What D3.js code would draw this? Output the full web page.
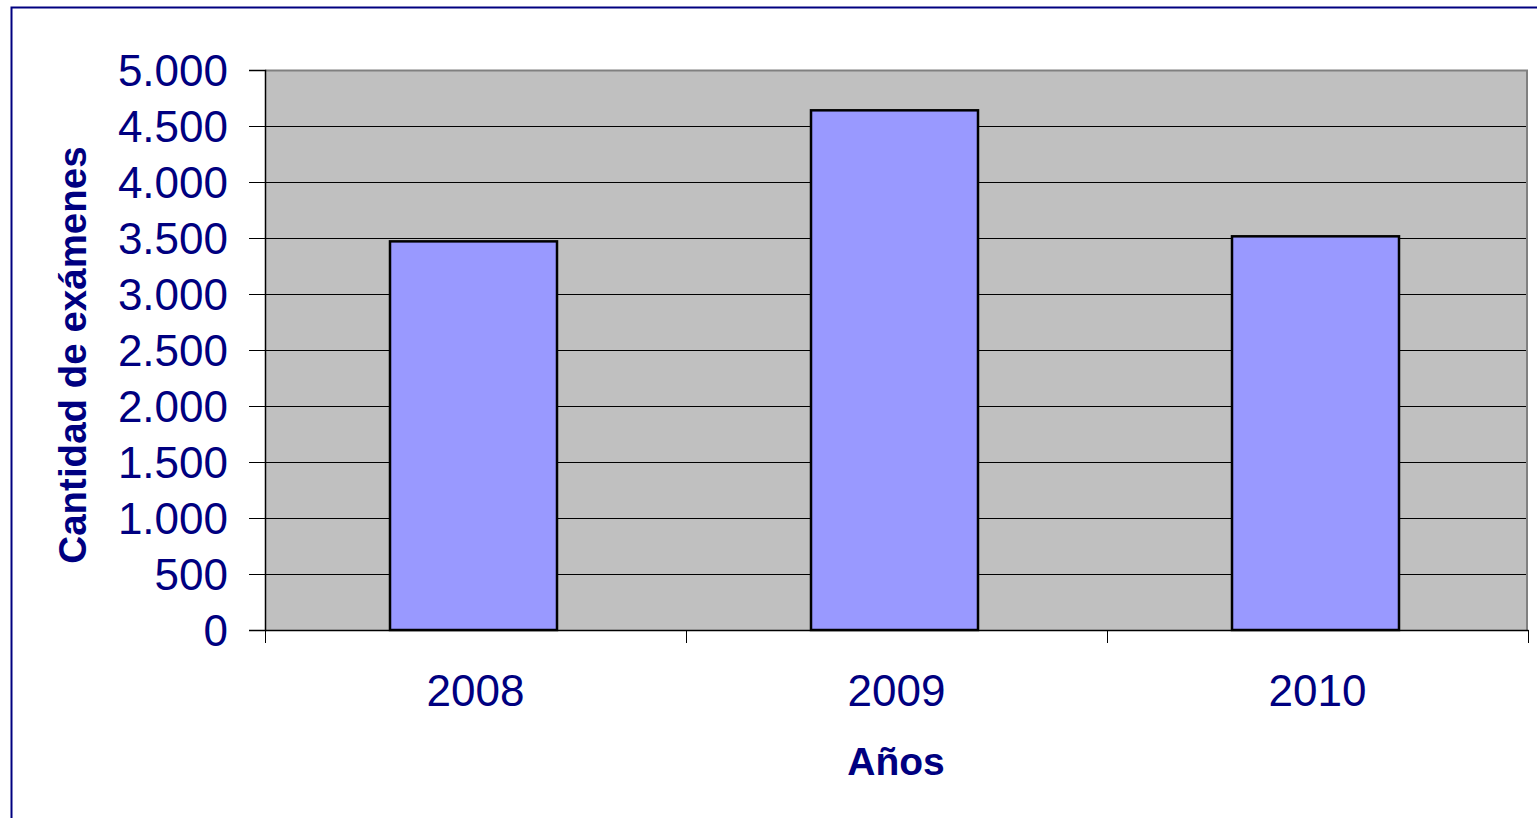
<!DOCTYPE html>
<html>
<head>
<meta charset="utf-8">
<script src="https://cdn.jsdelivr.net/npm/d3@7"></script>
<style>
  body { margin: 0; background: #fff; }
  svg { display: block; font-family: "Liberation Sans", Arial, sans-serif; }
</style>
</head>
<body>
<div id="wrapper"></div>
<script>
const years = ["2008", "2009", "2010"]
const examCounts = [3470, 4640, 3515]
const yTicks = [0, 500, 1000, 1500, 2000, 2500, 3000, 3500, 4000, 4500, 5000]

function drawBars() {
  const dataset = years.map((y, i) => ({ year: y, count: examCounts[i] }))
  const xAccessor = d => d.year
  const yAccessor = d => d.count

  let dimensions = {
    width: 1537,
    height: 818,
    margin: { top: 70, right: 9, bottom: 188, left: 265 },
  }
  dimensions.boundedWidth = dimensions.width - dimensions.margin.left - dimensions.margin.right
  dimensions.boundedHeight = dimensions.height - dimensions.margin.top - dimensions.margin.bottom

  const navy = "#000080"
  const barWidth = 167

  const wrapper = d3.select("#wrapper")
    .append("svg")
    .attr("width", dimensions.width)
    .attr("height", dimensions.height)

  // outer frame
  wrapper.append("rect")
    .attr("x", 11.5).attr("y", 7.5)
    .attr("width", dimensions.width + 10)
    .attr("height", dimensions.height + 10)
    .attr("fill", "none")
    .attr("stroke", navy)
    .attr("stroke-width", 2)

  const bounds = wrapper.append("g")
    .attr("transform", `translate(${dimensions.margin.left}, ${dimensions.margin.top})`)

  const xScaler = d3.scaleBand()
    .domain(years)
    .range([0, dimensions.boundedWidth])

  const yScaler = d3.scaleLinear()
    .domain([0, 5000])
    .range([dimensions.boundedHeight, 0])

  // plot background
  bounds.append("rect")
    .attr("width", dimensions.boundedWidth)
    .attr("height", dimensions.boundedHeight)
    .attr("fill", "#c0c0c0")

  // gridlines
  bounds.append("g")
    .selectAll("line")
    .data(yTicks.filter(t => t > 0))
    .join("line")
    .attr("x1", 0)
    .attr("x2", dimensions.boundedWidth)
    .attr("y1", d => Math.round(yScaler(d)) + 0.5)
    .attr("y2", d => Math.round(yScaler(d)) + 0.5)
    .attr("stroke", "#000")
    .attr("stroke-width", 1)

  // plot border top/right
  bounds.append("path")
    .attr("d", `M0,0.5H${dimensions.boundedWidth - 1}V${dimensions.boundedHeight}`)
    .attr("fill", "none")
    .attr("stroke", "#808080")
    .attr("stroke-width", 2)

  // bars
  bounds.append("g")
    .selectAll("rect")
    .data(dataset)
    .join("rect")
    .attr("x", d => xScaler(xAccessor(d)) + xScaler.bandwidth() / 2 - barWidth / 2 - 2)
    .attr("y", d => yScaler(yAccessor(d)))
    .attr("width", barWidth)
    .attr("height", d => dimensions.boundedHeight - yScaler(yAccessor(d)))
    .attr("fill", "#9999ff")
    .attr("stroke", "#000")
    .attr("stroke-width", 2.5)

  // y axis
  const yAxis = bounds.append("g")
    .call(d3.axisLeft(yScaler)
      .tickValues(yTicks)
      .tickSize(16)
      .tickPadding(21)
      .tickFormat(d => d3.format(",")(d).replace(/,/g, ".")))
  yAxis.select(".domain").attr("stroke", "#000").attr("stroke-width", 1.5)
  yAxis.selectAll(".tick line").attr("stroke", "#000")
  yAxis.selectAll("text")
    .attr("fill", navy)
    .attr("font-size", 44)
    .attr("font-family", "'Liberation Sans', Arial, sans-serif")
    .attr("dy", "0.36em")

  // x axis
  const xAxis = bounds.append("g")
    .attr("transform", `translate(0, ${dimensions.boundedHeight})`)
    .call(d3.axisBottom(xScaler).tickSize(0).tickPadding(45))
  xAxis.select(".domain").attr("stroke", "#000").attr("stroke-width", 1.5)
  xAxis.selectAll("text")
    .attr("fill", navy)
    .attr("font-size", 44)
    .attr("font-family", "'Liberation Sans', Arial, sans-serif")

  // category separator ticks
  const seps = [0, ...years.map(y => xScaler(y) + xScaler.bandwidth())]
  bounds.append("g")
    .selectAll("line")
    .data(seps)
    .join("line")
    .attr("x1", d => Math.round(d) + 0.5)
    .attr("x2", d => Math.round(d) + 0.5)
    .attr("y1", dimensions.boundedHeight)
    .attr("y2", dimensions.boundedHeight + 13)
    .attr("stroke", "#000")
    .attr("stroke-width", 1)

  // axis titles
  wrapper.append("text")
    .attr("x", 896)
    .attr("y", 775)
    .attr("text-anchor", "middle")
    .attr("fill", navy)
    .attr("font-size", 39)
    .attr("font-weight", "bold")
    .text("Años")

  wrapper.append("text")
    .attr("transform", "translate(86, 355) rotate(-90)")
    .attr("text-anchor", "middle")
    .attr("fill", navy)
    .attr("font-size", 38.5)
    .attr("font-weight", "bold")
    .text("Cantidad de exámenes")
}

drawBars()
</script>
</body>
</html>
